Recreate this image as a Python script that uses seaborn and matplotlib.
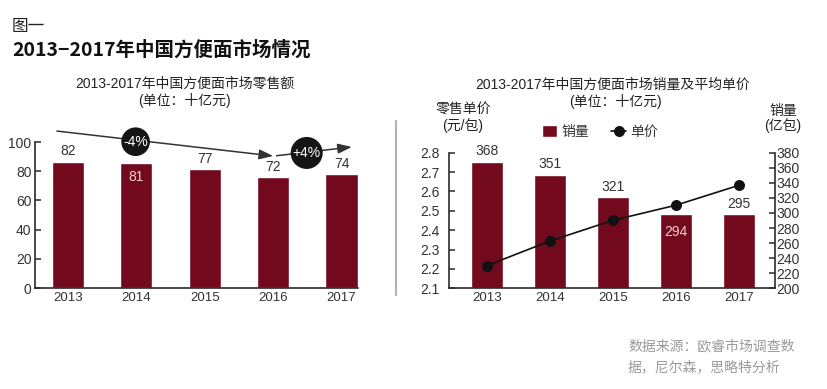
import matplotlib
matplotlib.use("Agg")
import matplotlib.pyplot as plt
import seaborn as sns
import pandas as pd
from matplotlib.lines import Line2D

sns.set_theme(style="white")
plt.rcParams['font.family'] = ['Liberation Sans', 'Noto Sans CJK SC', 'DejaVu Sans']
plt.rcParams['axes.unicode_minus'] = False

# ---------------- data ----------------
years = ["2013", "2014", "2015", "2016", "2017"]
retail_bar = [86.5, 85.4, 81.3, 75.8, 78.0]          # drawn bar heights (十亿元)
retail_labels = ["82", "81", "77", "72", "74"]        # printed labels
volume_bar = [368, 351, 321, 298, 298]               # 销量 (亿包)
volume_labels = ["368", "351", "321", "294", "295"]
price = [2.217, 2.344, 2.451, 2.529, 2.632]          # 单价 (元/包)
growth_labels = ["-4%", "+4%"]
retail_yticks = [0, 20, 40, 60, 80, 100]
price_yticks = [2.1, 2.2, 2.3, 2.4, 2.5, 2.6, 2.7, 2.8]
volume_yticks = list(range(200, 381, 20))

BAR = "#72091d"
DARK = "#2b2b2b"
W, H = 827, 389

fig = plt.figure(figsize=(W / 100, H / 100), dpi=100)
fig.patch.set_facecolor("white")


def fx(px):
    return px / W


def fy(py):
    return 1 - py / H


def style_axis(ax):
    for s in ["top", "right", "left", "bottom"]:
        ax.spines[s].set_visible(False)
    ax.set_xlabel("")
    ax.set_ylabel("")


# ---------------- left chart ----------------
axL = fig.add_axes([fx(35), fy(288), fx(358) - fx(35), fy(142) - fy(288)])
dfL = pd.DataFrame({"year": years, "value": retail_bar})
sns.barplot(data=dfL, x="year", y="value", color=BAR, width=0.47, saturation=1,
            ax=axL, zorder=2)
style_axis(axL)
axL.spines["left"].set_visible(True)
axL.spines["bottom"].set_visible(True)
for s in ["left", "bottom"]:
    axL.spines[s].set_color(DARK)
    axL.spines[s].set_linewidth(1.2)
axL.set_xlim(-0.48, 4.24)
axL.set_ylim(0, 100)
axL.set_yticks(retail_yticks)
axL.tick_params(axis="y", direction="in", length=4, width=1.1, color=DARK,
                labelsize=10, labelcolor="#333333", pad=2.5, left=True)
axL.tick_params(axis="x", length=0, labelsize=9.5, labelcolor="#333333", pad=3)

for i, (v, lab) in enumerate(zip(retail_bar, retail_labels)):
    if i == 1:
        axL.annotate(lab, (i, v), xytext=(0, -10), textcoords="offset points",
                     ha="center", va="center", fontsize=10, color="#f6c9cc")
    else:
        axL.annotate(lab, (i, v), xytext=(0, 7.5), textcoords="offset points",
                     ha="center", va="center", fontsize=10, color="#333333")

# trend arrows and growth bubbles
arrow_kw = dict(arrowstyle="-|>,head_length=0.7,head_width=0.25", color="#333333", lw=1.1,
                shrinkA=0, shrinkB=0)
axL.annotate("", xy=(3.0, 90.4), xytext=(-0.16, 107.5), arrowprops=arrow_kw,
             annotation_clip=False)
axL.annotate("", xy=(4.15, 96.6), xytext=(3.05, 90.6), arrowprops=arrow_kw,
             annotation_clip=False)
bub = dict(boxstyle="circle,pad=0.14", fc="#151515", ec="none")
axL.text(0.99, 100.2, growth_labels[0], ha="center", va="center", fontsize=10,
         color="white", bbox=bub, clip_on=False, zorder=5)
axL.text(3.49, 92.5, growth_labels[1], ha="center", va="center", fontsize=10,
         color="white", bbox=bub, clip_on=False, zorder=5)

# ---------------- right chart ----------------
rect = [fx(449), fy(288.3), fx(775) - fx(449), fy(152.7) - fy(288.3)]
axB = fig.add_axes(rect)
dfR = pd.DataFrame({"year": years, "volume": volume_bar, "price": price})
sns.barplot(data=dfR, x="year", y="volume", color=BAR, width=0.51, saturation=1,
            ax=axB, label="销量")
axP = axB.twinx()
sns.pointplot(data=dfR, x="year", y="price", color="#111111", markers="o",
              markersize=7, linewidth=1.2, ax=axP, label="单价")

style_axis(axB)
axB.set_ylim(200, 380)
axB.set_yticks(volume_yticks)
axB.yaxis.tick_right()
axB.spines["right"].set_visible(True)
axB.spines["bottom"].set_visible(True)
for s in ["right", "bottom"]:
    axB.spines[s].set_color(DARK)
    axB.spines[s].set_linewidth(1.2)
axB.tick_params(axis="y", direction="in", length=4.5, width=1.1, color=DARK,
                labelsize=10, labelcolor="#333333", pad=1,
                right=True, left=False, labelright=True, labelleft=False)
axB.tick_params(axis="x", length=0, labelsize=9.5, labelcolor="#333333", pad=3)

for i, (v, lab) in enumerate(zip(volume_bar, volume_labels)):
    if i == 3:
        axB.annotate(lab, (i, v), xytext=(0, -12.5), textcoords="offset points",
                     ha="center", va="center", fontsize=10, color="#f6c9cc")
    else:
        axB.annotate(lab, (i, v), xytext=(0, 7.5), textcoords="offset points",
                     ha="center", va="center", fontsize=10, color="#333333")

style_axis(axP)
axP.spines["left"].set_visible(True)
axP.spines["left"].set_color(DARK)
axP.spines["left"].set_linewidth(1.2)
axP.set_ylim(2.1, 2.8)
axP.set_yticks(price_yticks)
axP.set_yticklabels([f"{t:.1f}" for t in price_yticks])
axP.tick_params(axis="y", direction="in", length=4.5, width=1.1, color=DARK,
                labelsize=10, labelcolor="#333333", pad=7,
                left=True, right=False, labelleft=True, labelright=False)
axB.set_xlim(-0.6, 4.57)
axP.set_xlim(-0.6, 4.57)

# legend
hB, lB = axB.get_legend_handles_labels()
hP, lP = axP.get_legend_handles_labels()
leg = fig.legend(hB + hP, lB + lP, loc="center", ncol=2, frameon=False,
                 bbox_to_anchor=(fx(600), fy(132)), fontsize=10, handlelength=1.1,
                 handleheight=0.9, handletextpad=0.3, columnspacing=1.6)
for t in leg.get_texts():
    t.set_color("#333333")
if axB.get_legend() is not None:
    axB.get_legend().remove()
if axP.get_legend() is not None:
    axP.get_legend().remove()

# ---------------- texts ----------------
fig.text(fx(12), fy(26.5), "图一", fontsize=12, color="#222222", ha="left", va="center",
         family=["Noto Sans CJK SC"])
fig.text(fx(12), fy(50), "2013−2017年中国方便面市场情况", fontsize=14, fontweight="bold",
         color="#111111", ha="left", va="center", family=["Noto Sans CJK SC"])

fig.text(fx(185), fy(84), "2013-2017年中国方便面市场零售额", fontsize=10, color="#222222",
         ha="center", va="center")
fig.text(fx(184), fy(100.5), "(单位：十亿元)", fontsize=10, color="#222222",
         ha="center", va="center")
fig.text(fx(612.5), fy(85), "2013-2017年中国方便面市场销量及平均单价", fontsize=10,
         color="#222222", ha="center", va="center")
fig.text(fx(615), fy(101.5), "(单位：十亿元)", fontsize=10, color="#222222",
         ha="center", va="center")
fig.text(fx(463), fy(110), "零售单价", fontsize=10, color="#222222", ha="center", va="center")
fig.text(fx(463), fy(125.5), "(元/包)", fontsize=10, color="#222222", ha="center", va="center")
fig.text(fx(783), fy(111.5), "销量", fontsize=10, color="#222222", ha="center", va="center")
fig.text(fx(783), fy(126), "(亿包)", fontsize=10, color="#222222", ha="center", va="center")

fig.text(fx(628), fy(346), "数据来源：欧睿市场调查数", fontsize=10, color="#9a9a9a",
         ha="left", va="center")
fig.text(fx(628), fy(367), "据，尼尔森，思略特分析", fontsize=10, color="#9a9a9a",
         ha="left", va="center")

# separator
fig.add_artist(Line2D([fx(396), fx(396)], [fy(121), fy(295)], color="#b0b0b0", lw=1.5))

fig.savefig("out.png", dpi=100, facecolor="white")
